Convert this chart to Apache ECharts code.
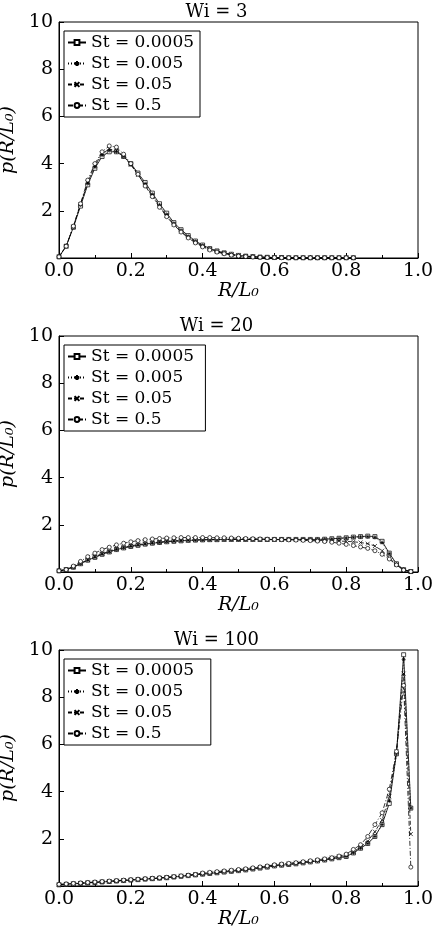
<!DOCTYPE html>
<html>
<head>
<meta charset="UTF-8">
<script src="https://cdn.jsdelivr.net/npm/echarts@6/dist/echarts.min.js"></script>
<style>html,body{margin:0;padding:0;background:#fff}#c{width:433px;height:931px}</style>
</head>
<body>
<div id="c"></div>
<script>
var xs = [0,0.02,0.04,0.06,0.08,0.1,0.12,0.14,0.16,0.18,0.2,0.22,0.24,0.26,0.28,0.3,0.32,0.34,0.36,0.38,
  0.4,0.42,0.44,0.46,0.48,0.5,0.52,0.54,0.56,0.58,0.6,0.62,0.64,0.66,0.68,0.7,0.72,0.74,0.76,0.78,
  0.8,0.82,0.84,0.86,0.88,0.9,0.92,0.94,0.96,0.98];
var titles = ['Wi = 3', 'Wi = 20', 'Wi = 100'];
var names = ['St = 0.0005', 'St = 0.005', 'St = 0.05', 'St = 0.5'];

// Wi = 3
var wi3_a = [0.05,0.5,1.3,2.2,3.1,3.8,4.3,4.5,4.5,4.3,4.0,3.6,3.2,2.75,2.3,1.9,1.5,1.2,0.95,0.72,0.55,0.4,0.3,0.22,0.16,0.11,0.08,0.06,0.04,0.03,0.02,0.02,0.01,0.01,0.01,0.01,0.01,0.01,0.01,0.01,0.01,0.01];
var wi3_b = [0.05,0.5,1.3,2.25,3.15,3.85,4.35,4.55,4.5,4.3,3.95,3.55,3.15,2.7,2.25,1.85,1.47,1.17,0.92,0.7,0.53,0.39,0.29,0.21,0.15,0.1,0.08,0.06,0.04,0.03,0.02,0.02,0.01,0.01,0.01,0.01,0.01,0.01,0.01,0.01,0.01,0.01];
var wi3_c = [0.05,0.5,1.33,2.28,3.2,3.92,4.42,4.62,4.55,4.32,3.95,3.52,3.1,2.65,2.2,1.8,1.43,1.13,0.88,0.67,0.5,0.37,0.27,0.2,0.14,0.1,0.07,0.05,0.04,0.03,0.02,0.02,0.01,0.01,0.01,0.01,0.01,0.01,0.01,0.01,0.01,0.01];
var wi3_d = [0.05,0.5,1.35,2.3,3.3,4.0,4.5,4.75,4.7,4.4,4.0,3.55,3.05,2.6,2.15,1.75,1.4,1.1,0.85,0.64,0.47,0.34,0.25,0.18,0.12,0.08,0.06,0.04,0.03,0.02,0.02,0.01,0.01,0.01,0.01,0.01,0.01,0.01,0.01,0.01,0.01,0.01];

// Wi = 20
var wi20_a = [0.05,0.1,0.2,0.35,0.5,0.62,0.75,0.85,0.95,1.02,1.08,1.13,1.18,1.22,1.25,1.28,1.3,1.32,1.34,1.35,1.36,1.37,1.37,1.38,1.38,1.38,1.38,1.38,1.38,1.38,1.38,1.38,1.38,1.38,1.38,1.38,1.38,1.39,1.41,1.43,1.45,1.48,1.5,1.52,1.5,1.3,0.8,0.35,0.1,0.02];
var wi20_b = [0.05,0.1,0.2,0.35,0.5,0.62,0.75,0.85,0.95,1.02,1.08,1.13,1.18,1.22,1.25,1.28,1.3,1.32,1.34,1.35,1.36,1.37,1.37,1.38,1.38,1.38,1.38,1.38,1.38,1.38,1.38,1.38,1.38,1.38,1.38,1.38,1.38,1.39,1.4,1.42,1.44,1.47,1.49,1.5,1.47,1.25,0.78,0.33,0.1,0.02];
var wi20_c = [0.05,0.1,0.21,0.37,0.52,0.65,0.78,0.88,0.98,1.05,1.11,1.16,1.2,1.24,1.27,1.3,1.32,1.34,1.35,1.36,1.37,1.37,1.38,1.38,1.38,1.38,1.38,1.38,1.38,1.37,1.37,1.37,1.36,1.36,1.35,1.35,1.34,1.33,1.32,1.31,1.3,1.28,1.25,1.2,1.1,0.9,0.6,0.3,0.08,0.02];
var wi20_d = [0.05,0.1,0.25,0.45,0.65,0.8,0.95,1.05,1.15,1.22,1.28,1.33,1.37,1.4,1.42,1.44,1.45,1.46,1.46,1.46,1.46,1.46,1.45,1.45,1.44,1.43,1.42,1.41,1.4,1.39,1.38,1.37,1.36,1.35,1.34,1.33,1.31,1.29,1.26,1.22,1.17,1.12,1.06,1.0,0.9,0.75,0.55,0.3,0.08,0.02];

// Wi = 100
var wi100_a = [0.05,0.07,0.09,0.11,0.13,0.15,0.17,0.19,0.21,0.23,0.25,0.27,0.29,0.31,0.33,0.35,0.38,0.41,0.44,0.47,0.5,0.53,0.56,0.59,0.62,0.65,0.68,0.72,0.76,0.8,0.85,0.88,0.91,0.94,0.98,1.02,1.06,1.1,1.15,1.2,1.25,1.4,1.6,1.8,2.1,2.6,3.5,5.6,9.8,3.3];
var wi100_b = [0.05,0.07,0.09,0.11,0.13,0.15,0.17,0.19,0.21,0.23,0.25,0.27,0.29,0.31,0.33,0.35,0.38,0.41,0.44,0.47,0.5,0.53,0.56,0.59,0.62,0.65,0.68,0.72,0.76,0.8,0.85,0.88,0.91,0.94,0.98,1.02,1.06,1.1,1.15,1.2,1.25,1.4,1.6,1.8,2.1,2.6,3.6,5.6,9.6,3.3];
var wi100_c = [0.06,0.08,0.1,0.12,0.14,0.16,0.18,0.2,0.22,0.24,0.26,0.28,0.3,0.32,0.34,0.37,0.4,0.43,0.46,0.49,0.53,0.56,0.59,0.62,0.65,0.68,0.72,0.76,0.8,0.84,0.88,0.92,0.95,0.98,1.02,1.06,1.1,1.15,1.2,1.25,1.3,1.45,1.65,1.9,2.3,2.8,3.8,5.7,9.0,2.2];
var wi100_d = [0.07,0.09,0.11,0.13,0.15,0.17,0.19,0.21,0.23,0.25,0.27,0.29,0.31,0.33,0.35,0.37,0.4,0.43,0.46,0.49,0.55,0.58,0.61,0.64,0.67,0.7,0.73,0.77,0.81,0.85,0.9,0.93,0.96,0.99,1.03,1.07,1.11,1.15,1.2,1.27,1.35,1.55,1.75,2.1,2.6,3.1,4.1,5.7,8.5,0.8];

var panels = [[wi3_a, wi3_b, wi3_c, wi3_d], [wi20_a, wi20_b, wi20_c, wi20_d], [wi100_a, wi100_b, wi100_c, wi100_d]];
var yTicks = [2, 4, 6, 8, 10];

var FONT = 'DejaVu Serif';
var crossPath = 'path://M0,0L10,10M10,0L0,10';
var starPath = 'path://M5,0L5,10M0,5L10,5M1.5,1.5L8.5,8.5M8.5,1.5L1.5,8.5';
var symbols = ['rect', starPath, crossPath, 'circle'];
var symbolFill = ['#fff', '#000', '#000', '#fff'];
var lineTypes = ['solid', [1, 2], [4, 2], [5, 2, 1, 2]];
var tops = [22, 336, 650];

var grids = [], xAxes = [], yAxes = [], series = [], legends = [];
tops.forEach(function (t, i) {
  grids.push({ left: 59, right: 15, top: t, height: 236, outerBoundsMode: 'none',
    show: true, borderColor: '#000', borderWidth: 1, backgroundColor: '#fff' });
  xAxes.push({
    type: 'value', gridIndex: i, min: 0, max: 1, interval: 0.2,
    name: 'R/L₀', nameLocation: 'middle', nameGap: 24,
    nameTextStyle: { fontFamily: FONT, fontStyle: 'italic', fontSize: 19, color: '#000' },
    axisLine: { show: true, lineStyle: { color: '#000' } },
    axisTick: { inside: true, length: 5, lineStyle: { color: '#000' } },
    minorTick: { show: true, splitNumber: 2, length: 3, lineStyle: { color: '#000' } },
    splitLine: { show: false },
    axisLabel: { fontFamily: FONT, fontSize: 19, color: '#000', margin: 4,
      formatter: function (v) { return v.toFixed(1); } }
  });
  yAxes.push({
    type: 'value', gridIndex: i, min: 0, max: 10, interval: 2,
    name: 'p(R/L₀)', nameLocation: 'middle', nameGap: 32, nameRotate: 90,
    nameTextStyle: { fontFamily: FONT, fontStyle: 'italic', fontSize: 19, color: '#000' },
    axisLine: { show: true, lineStyle: { color: '#000' } },
    axisTick: { inside: true, length: 5, lineStyle: { color: '#000' } },
    splitLine: { show: false },
    axisLabel: { fontFamily: FONT, fontSize: 19, color: '#000', margin: 6,
      formatter: function (v) { return yTicks.indexOf(v) >= 0 ? String(v) : ''; } }
  });
  legends.push({
    orient: 'vertical', left: 64, top: t + 9, padding: [3, 6, 3, 3], itemGap: 4,
    itemWidth: 18, itemHeight: 6, borderColor: '#000', borderWidth: 1, backgroundColor: '#fff',
    textStyle: { fontFamily: FONT, fontSize: 17, color: '#000' },
    data: names.map(function (n) { return n + ' '.repeat(i); }),
    selectedMode: false
  });
  panels[i].forEach(function (vals, k) {
    series.push({
      type: 'line', name: names[k] + ' '.repeat(i), xAxisIndex: i, yAxisIndex: i,
      data: vals.map(function (v, j) { return [xs[j], v]; }),
      symbol: symbols[k], symbolSize: 4,
      itemStyle: { color: symbolFill[k], borderColor: '#000', borderWidth: 0.7 },
      lineStyle: { color: '#000', width: 0.8, type: lineTypes[k] },
      emphasis: { disabled: true }, animation: false
    });
  });
});

var chart = echarts.init(document.getElementById('c'), null, { renderer: 'canvas' });
chart.setOption({
  animation: false,
  textStyle: { fontFamily: FONT },
  grid: grids, xAxis: xAxes, yAxis: yAxes, series: series, legend: legends,
  title: titles.map(function (s, i) {
    return { text: s, left: 'center', top: tops[i] - 24,
      textStyle: { fontFamily: FONT, fontSize: 18, fontWeight: 'normal', color: '#000' } };
  })
});
</script>
</body>
</html>
